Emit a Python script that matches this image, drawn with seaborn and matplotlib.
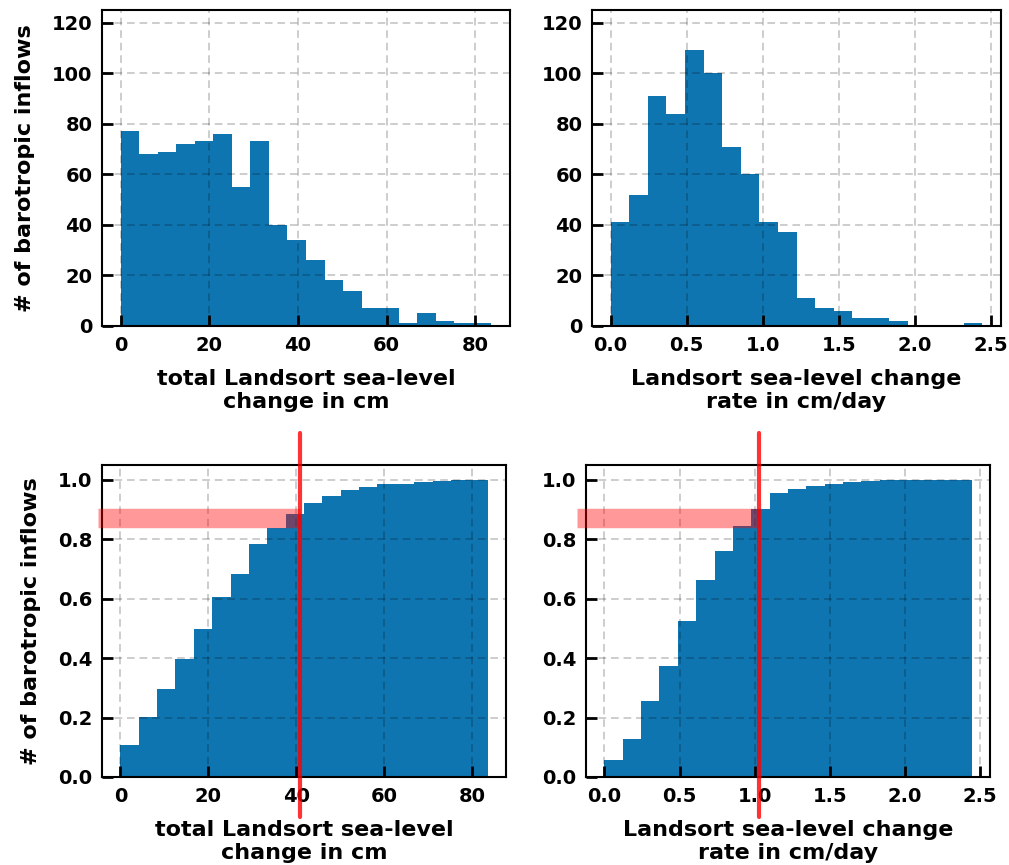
import numpy as np
import pandas as pd
import seaborn as sns
import matplotlib
matplotlib.use("Agg")
import matplotlib.pyplot as plt

sns.set_style("white")
plt.rcParams['font.family'] = ['DejaVu Sans']
plt.rcParams['font.weight'] = 'bold'
plt.rcParams['text.color'] = 'black'
plt.rcParams['axes.labelcolor'] = 'black'
plt.rcParams['xtick.color'] = 'black'
plt.rcParams['ytick.color'] = 'black'

# ---- data ----
total_counts = [77, 68, 69, 72, 73, 76, 55, 73, 40, 34, 26, 18, 14, 7, 7, 1, 5, 2, 1, 1]
total_range = (0.0, 83.6)          # cm
rate_counts = [41, 52, 91, 84, 109, 100, 71, 60, 41, 37, 11, 7, 6, 3, 3, 2, 0, 0, 0, 1]
rate_range = (0.0, 2.443)          # cm/day

p90_total = 41.0
p90_rate = 1.03
band_level = 0.87

xlabel_total = "total Landsort sea-level\nchange in cm"
xlabel_rate = "Landsort sea-level change\nrate in cm/day"
ylabel = "# of barotropic inflows"

bar_color = "#0e75b0"

def make_df(counts, rng):
    edges = np.linspace(rng[0], rng[1], len(counts) + 1)
    centers = 0.5 * (edges[:-1] + edges[1:])
    return pd.DataFrame({"x": centers, "w": np.asarray(counts, dtype=float)})

df_total = make_df(total_counts, total_range)
df_rate = make_df(rate_counts, rate_range)

W, H = 1009, 865
fig = plt.figure(figsize=(W / 100, H / 100), dpi=100)

def ax_at(l, t, r, b):
    return fig.add_axes([l / W, 1 - b / H, (r - l) / W, (b - t) / H])

ax1 = ax_at(102, 10, 510, 326)
ax2 = ax_at(592, 10, 1001, 326)
ax3 = ax_at(102, 465, 506, 777)
ax4 = ax_at(586, 465, 990, 777)

common = dict(x="x", weights="w", color=bar_color, alpha=1, linewidth=0)
sns.histplot(data=df_total, bins=len(total_counts), binrange=total_range, ax=ax1, **common)
sns.histplot(data=df_rate, bins=len(rate_counts), binrange=rate_range, ax=ax2, **common)
sns.histplot(data=df_total, bins=len(total_counts), binrange=total_range, ax=ax3,
             cumulative=True, stat="probability", **common)
sns.histplot(data=df_rate, bins=len(rate_counts), binrange=rate_range, ax=ax4,
             cumulative=True, stat="probability", **common)

def margins(rng):
    span = rng[1] - rng[0]
    return (rng[0] - 0.05 * span, rng[1] + 0.05 * span)

for ax in (ax1, ax3):
    ax.set_xlim(*margins(total_range))
for ax in (ax2, ax4):
    ax.set_xlim(*margins(rate_range))

for ax in (ax1, ax2):
    ax.set_ylim(0, 125)
    ax.set_yticks(np.arange(0, 121, 20))
for ax in (ax3, ax4):
    ax.set_ylim(0, 1.05)
    ax.set_yticks(np.arange(0, 1.01, 0.2))
    ax.set_yticklabels([f"{v:.1f}" for v in np.arange(0, 1.01, 0.2)])

for ax in (ax1, ax3):
    ax.set_xticks([0, 20, 40, 60, 80])
for ax in (ax2, ax4):
    ax.set_xticks([0.0, 0.5, 1.0, 1.5, 2.0, 2.5])
    ax.set_xticklabels(["0.0", "0.5", "1.0", "1.5", "2.0", "2.5"])

for ax, xl in ((ax1, xlabel_total), (ax2, xlabel_rate), (ax3, xlabel_total), (ax4, xlabel_rate)):
    ax.set_xlabel(xl, fontsize=16, fontweight='bold', labelpad=10)
    ax.set_ylabel("")
    ax.grid(True, linestyle=(0, (5, 3.2)), color='black', alpha=0.25, linewidth=1.1)
    ax.set_axisbelow(False)
    ax.tick_params(direction='in', length=8, width=2, labelsize=14, pad=7,
                   bottom=True, left=True, top=False, right=False)
    for lbl in ax.get_xticklabels() + ax.get_yticklabels():
        lbl.set_fontweight('bold')
    for s in ax.spines.values():
        s.set_linewidth(1.5)
        s.set_color('black')

ax1.set_ylabel(ylabel, fontsize=16, fontweight='bold', labelpad=12)
ax3.set_ylabel(ylabel, fontsize=16, fontweight='bold', labelpad=12)

# percentile markers
for ax, xv, xleft in ((ax3, p90_total, -5.2), (ax4, p90_rate, -0.18)):
    ax.plot([xleft, xv], [band_level, band_level], color='red', alpha=0.4,
            linewidth=14, solid_capstyle='butt', clip_on=False, zorder=5,
            scalex=False, scaley=False)
    ax.plot([xv, xv], [-0.136, 1.158], color='red', alpha=0.8, linewidth=3,
            clip_on=False, zorder=6, scalex=False, scaley=False)

fig.savefig("out.png", dpi=100)
